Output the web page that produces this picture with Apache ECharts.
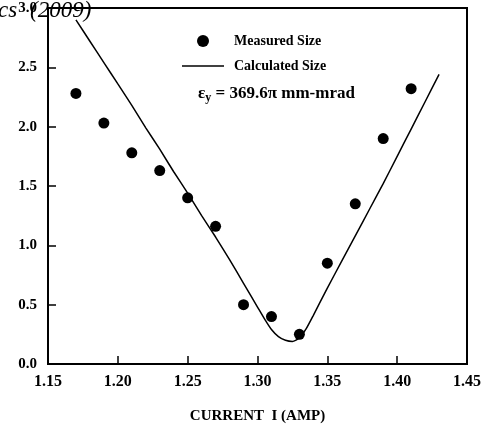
<!DOCTYPE html>
<html>
<head>
<meta charset="utf-8">
<script src="https://cdn.jsdelivr.net/npm/echarts@6/dist/echarts.min.js"></script>
<style>
	html,body{margin:0;padding:0;background:#fff;}
	#main{width:484px;height:429px;}
</style>
</head>
<body>
<div id="main"></div>
<script>
// measured beam size (dots)
let measuredX = [1.17, 1.19, 1.21, 1.23, 1.25, 1.27, 1.29, 1.31, 1.33, 1.35, 1.37, 1.39, 1.41];
let measuredY = [2.28, 2.03, 1.78, 1.63, 1.40, 1.16, 0.50, 0.40, 0.25, 0.85, 1.35, 1.90, 2.32];
// calculated size (curve)
let calcX = [1.17, 1.18, 1.19, 1.20, 1.21, 1.22, 1.23, 1.24, 1.25, 1.26, 1.27, 1.28, 1.29, 1.30, 1.305, 1.31, 1.315, 1.32, 1.325, 1.33, 1.335, 1.34, 1.35, 1.36, 1.37, 1.38, 1.39, 1.40, 1.41, 1.42, 1.43];
let calcY = [2.90, 2.72, 2.54, 2.36, 2.18, 1.99, 1.81, 1.62, 1.44, 1.25, 1.07, 0.88, 0.68, 0.48, 0.38, 0.29, 0.23, 0.20, 0.19, 0.22, 0.30, 0.41, 0.64, 0.86, 1.08, 1.30, 1.52, 1.75, 1.98, 2.21, 2.44];

let serif = '"Liberation Serif", "Times New Roman", serif';
let myChart = echarts.init(document.getElementById('main'));

let measured = measuredX.map((x, i) => [x, measuredY[i]]);
let calc = calcX.map((x, i) => [x, calcY[i]]);

let option = {
	animation: false,
	backgroundColor: '#fff',
	grid: {
		left: 48, right: 16, top: 8, bottom: 64,
		show: true, borderColor: '#000', borderWidth: 2
	},
	legend: {
		orient: 'vertical',
		left: 182, top: 34,
		padding: 0,
		itemWidth: 42, itemHeight: 12, itemGap: 11,
		textStyle: { fontFamily: serif, fontWeight: 'bold', fontSize: 14, color: '#000', padding: [0, 0, 0, 5] },
		data: [
			{ name: 'Measured Size', icon: 'circle' },
			{ name: 'Calculated Size', icon: 'path://M0 0 H42 V1.6 H0 Z' }
		]
	},
	xAxis: {
		type: 'value',
		min: 1.15, max: 1.45, interval: 0.05,
		name: 'CURRENT  I (AMP)',
		nameLocation: 'middle',
		nameGap: 45,
		nameTextStyle: { fontFamily: serif, fontWeight: 'bold', fontSize: 15, color: '#000' },
		axisLine: { lineStyle: { color: '#000', width: 2 } },
		axisTick: { inside: true, length: 8, lineStyle: { color: '#000', width: 1.5 } },
		splitLine: { show: false },
		axisLabel: {
			margin: 10, color: '#000', fontFamily: serif, fontWeight: 'bold', fontSize: 16,
			formatter: v => v.toFixed(2)
		}
	},
	yAxis: {
		type: 'value',
		min: 0, max: 3, interval: 0.5,
		axisLine: { show: true, lineStyle: { color: '#000', width: 2 } },
		axisTick: { show: true, inside: true, length: 8, lineStyle: { color: '#000', width: 1.5 } },
		splitLine: { show: false },
		axisLabel: {
			margin: 11, color: '#000', fontFamily: serif, fontWeight: 'bold', fontSize: 15,
			formatter: v => v.toFixed(1)
		}
	},
	graphic: [
		{
			type: 'text', left: 198, top: 85, z: 10,
			style: {
				text: '{a|ε}{s|y}{a| = 369.6π mm-mrad}',
				rich: {
					a: { fontFamily: serif, fontWeight: 'bold', fontSize: 17, fill: '#000' },
					s: { fontFamily: serif, fontWeight: 'bold', fontSize: 12, fill: '#000', padding: [9, 0, 0, 0] }
				}
			}
		},
		{
			type: 'text', left: -2, top: -1, z: 10,
			style: { text: 'cs', fontFamily: serif, fontStyle: 'italic', fontSize: 23, fill: '#000' }
		},
		{
			type: 'text', left: 30, top: -1, z: 10,
			style: { text: '(2009)', fontFamily: serif, fontStyle: 'italic', fontSize: 23, fill: '#000' }
		}
	],
	series: [
		{
			name: 'Measured Size',
			type: 'scatter',
			symbol: 'circle',
			symbolSize: 11,
			itemStyle: { color: '#000', opacity: 1 },
			data: measured
		},
		{
			name: 'Calculated Size',
			type: 'line',
			smooth: 0.2,
			showSymbol: false,
			symbol: 'none',
			lineStyle: { color: '#000', width: 1.5 },
			itemStyle: { color: '#000' },
			data: calc
		}
	]
};

myChart.setOption(option);
</script>
</body>
</html>
